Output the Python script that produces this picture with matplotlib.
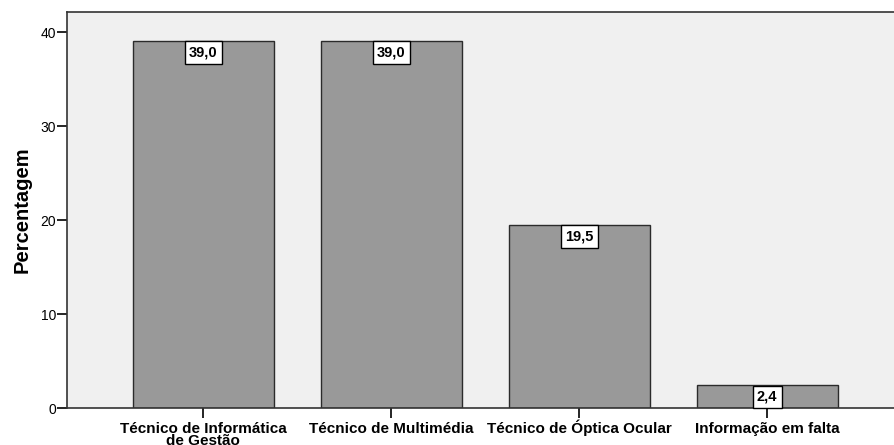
import matplotlib.pyplot as plt
import numpy as np

categories = ["Técnico de Informática\nde Gestão", "Técnico de Multimédia",
              "Técnico de Óptica Ocular", "Informação em falta"]
percentages = [39.0, 39.0, 19.5, 2.4]
value_labels = ["39,0", "39,0", "19,5", "2,4"]
y_ticks = [0, 10, 20, 30, 40]

plt.rcParams["font.family"] = ["Liberation Sans", "DejaVu Sans"]

fig = plt.figure(figsize=(8.95, 4.45), dpi=100)
ax = fig.add_axes([67 / 895, 37 / 445, 828 / 895, 396 / 445])
ax.set_facecolor("#f0f0f0")

x = np.arange(len(categories))
ax.bar(x, percentages, width=0.75, color="#999999", edgecolor="#2b2b2b", linewidth=1.0)

for xi, v, lab in zip(x, percentages, value_labels):
    ax.annotate(lab, xy=(xi, v), xytext=(0, -3.2), textcoords="offset points",
                ha="center", va="top", fontsize=10.5, fontweight="bold",
                bbox=dict(boxstyle="square,pad=0.3", facecolor="white",
                          edgecolor="black", linewidth=1.0))

ax.set_xlim(-0.726, 3.68)
ax.set_ylim(0, 42.13)
ax.set_yticks(y_ticks)
ax.set_xticks(x)
ax.set_xticklabels([])
# category labels share the first line's baseline, like the original
# (matplotlib's "baseline" is the last line, so push multi-line labels down)
for xi, cat in zip(x, categories):
    extra = cat.count("\n") * 8.6
    ax.annotate(cat, xy=(xi, 0), xycoords=ax.get_xaxis_transform(),
                xytext=(0, -18 - extra), textcoords="offset points",
                ha="center", va="baseline", fontsize=11, fontweight="bold",
                linespacing=0.85, annotation_clip=False)
ax.tick_params(axis="y", labelsize=10, length=7, width=1.2, direction="out", pad=1)
ax.tick_params(axis="x", length=7, width=1.2, direction="out")
ax.set_ylabel("Percentagem", fontsize=14.5, fontweight="bold", labelpad=6)

for side in ["left", "bottom", "top"]:
    ax.spines[side].set_color("#333333")
    ax.spines[side].set_linewidth(1.2)
ax.spines["right"].set_visible(False)

fig.savefig("out.png", dpi=100)
